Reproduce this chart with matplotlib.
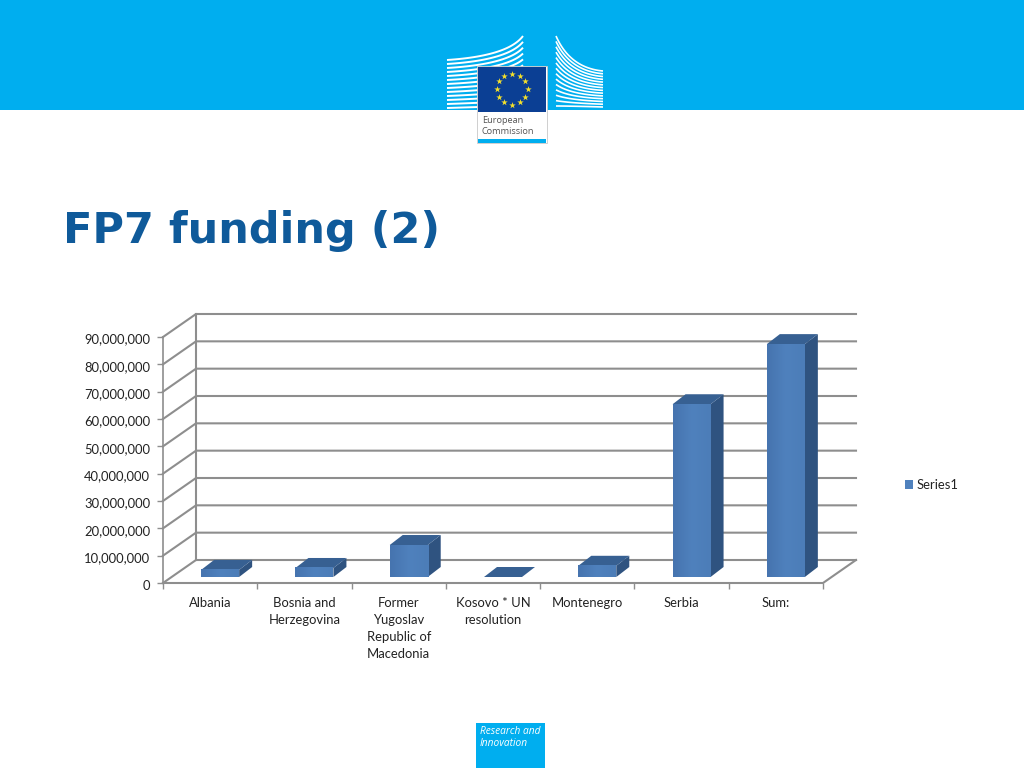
import numpy as np
import matplotlib
matplotlib.use("Agg")
import matplotlib.pyplot as plt
from matplotlib.colors import LinearSegmentedColormap
from matplotlib.patches import Polygon, Rectangle, Patch
from matplotlib.ticker import FuncFormatter
from matplotlib.transforms import ScaledTranslation

# chart values
categories = ["Albania", "Bosnia and\nHerzegovina", "Former\nYugoslav\nRepublic of\nMacedonia",
              "Kosovo * UN\nresolution", "Montenegro", "Serbia", "Sum:"]
funding = [2600000, 3300000, 11700000, 0, 4100000, 63200000, 85200000]
y_ticks = list(range(0, 100000000, 10000000))
series_name = "Series1"

W, H = 1024, 768
CYAN = "#00AEEF"
GRID = "#8E8E8E"
TEXT = "#222222"
FONT = "Lato"

fig = plt.figure(figsize=(W / 100, H / 100), dpi=100, facecolor="white")


def axes_from_pixels(x0, y0, x1, y1, **kw):
    # y0 is the top edge, counted from the top of the image
    return fig.add_axes([x0 / W, 1 - y1 / H, (x1 - x0) / W, (y1 - y0) / H], **kw)


# page furniture, in pixel coordinates
page = axes_from_pixels(0, 0, W, H)
page.set_xlim(0, W)
page.set_ylim(H, 0)
page.axis("off")
page.add_patch(Rectangle((0, 0), W, 110, color=CYAN, lw=0))
page.add_patch(Rectangle((476, 723), 69, 45, color=CYAN, lw=0))
page.text(480, 731.5, "Research and", color="white", style="italic", fontsize=7.3, family="Open Sans", va="center")
page.text(480, 743.5, "Innovation", color="white", style="italic", fontsize=7.3, family="Open Sans", va="center")
page.text(63, 231, "FP7 funding (2)", color="#0F5A9A", fontsize=31, fontweight="bold", family="DejaVu Sans", va="center")


def bezier(p0, p1, p2, n=30):
    t = np.linspace(0, 1, n)[:, None]
    return (1 - t) ** 2 * np.array(p0) + 2 * t * (1 - t) * np.array(p1) + t ** 2 * np.array(p2)


# building, left wing
for f in np.linspace(0, 1, 13):
    c = bezier((447, 60 + f * 48), (508, 56 + f * 50), (523, 36 + f * 70))
    page.plot(c[:, 0], c[:, 1], color="white", lw=1.4, solid_capstyle="butt", zorder=2)
# building, right wing
for f in np.linspace(0, 1, 14):
    c = bezier((556, 36 + f * 70), (570, 68 + f * 38), (603, 71 + f * 36))
    page.plot(c[:, 0], c[:, 1], color="white", lw=1.2, solid_capstyle="butt", zorder=2)

# logo panel
page.add_patch(Rectangle((477, 66), 70, 77, facecolor="white", edgecolor="#C8C8C8", lw=0.6, zorder=3))
page.add_patch(Rectangle((478, 67), 68, 45, color="#0B3F94", lw=0, zorder=4))
page.add_patch(Rectangle((478, 139), 68, 4, color=CYAN, lw=0, zorder=4))
angles = np.deg2rad(np.arange(0, 360, 30))
page.scatter(512 + 15.5 * np.cos(angles), 89 + 15.5 * np.sin(angles), marker="*", s=24, color="#F5E12B", lw=0, zorder=5)
page.text(482, 120.5, "European", color="#555555", fontsize=6.6, family="Open Sans", va="center", zorder=5)
page.text(482, 131, "Commission", color="#555555", fontsize=6.6, family="Open Sans", va="center", zorder=5)

# chart: front plane of the 3D box is the axes rectangle
X0, X1, Y0, Y1 = 163, 823, 337, 583
ax = axes_from_pixels(X0, Y0, X1, Y1)
ax.patch.set_alpha(0)
n = len(categories)
for s in ax.spines.values():
    s.set_visible(False)

# depth of the box expressed in data units
px_x = n / (X1 - X0)
px_y = 90000000 / (Y1 - Y0)
depth_x, depth_y = 33 * px_x, 23 * px_y

# walls and gridlines
for v in y_ticks:
    ax.plot([0, depth_x, n + depth_x], [v, v + depth_y, v + depth_y], color=GRID, lw=1.5,
            clip_on=False, zorder=1, solid_joinstyle="miter")
ax.plot([0, 0], [0, y_ticks[-1]], color=GRID, lw=1.2, clip_on=False, zorder=1)
ax.plot([depth_x, depth_x], [depth_y, y_ticks[-1] + depth_y], color=GRID, lw=1.5, clip_on=False, zorder=1)
ax.plot([0, n, n + depth_x], [0, 0, depth_y], color=GRID, lw=1.5, clip_on=False, zorder=1)

# 3D columns
bar_w = 38 * px_x
shift_x, shift_y = 10 * px_x, 6 * px_y
bar_dx, bar_dy = 13 * px_x, 10 * px_y
FRONT, TOP, SIDE = "#4F81BD", "#376092", "#2F5380"
front_cmap = LinearSegmentedColormap.from_list("front", ["#4674AF", "#4F81BD", "#4C7DB8"])

for i, v in enumerate(funding):
    left = i + 0.5 - bar_w / 2 + shift_x
    right = left + bar_w
    base = shift_y
    top = base + v
    if v > 0:
        ax.add_patch(Polygon([(right, base), (right + bar_dx, base + bar_dy), (right + bar_dx, top + bar_dy), (right, top)],
                             facecolor=SIDE, lw=0, zorder=3, clip_on=False))
        ax.imshow(np.linspace(0, 1, 32)[None, :], extent=(left, right, base, top), aspect="auto",
                  cmap=front_cmap, zorder=4, clip_on=False)
    ax.add_patch(Polygon([(left, top), (right, top), (right + bar_dx, top + bar_dy), (left + bar_dx, top + bar_dy)],
                         facecolor=TOP, lw=0, zorder=3, clip_on=False))

ax.set_xlim(0, n)
ax.set_ylim(0, 90000000)

ax.set_yticks(y_ticks)
ax.yaxis.set_major_formatter(FuncFormatter(lambda v, _: f"{int(v):,}"))
ax.set_xticks(range(n + 1))
ax.set_xticklabels([])
ax.set_xticks(np.arange(n) + 0.5, minor=True)
ax.set_xticklabels(categories, minor=True, fontsize=9.4, family=FONT, color=TEXT, linespacing=1.5, va="top")
ax.tick_params(axis="x", which="major", length=4.5, width=1, color=GRID)
ax.tick_params(axis="x", which="minor", length=0, pad=10)
ax.tick_params(axis="y", length=4.5, width=1, color=GRID, pad=4.8, labelsize=9.4, labelcolor=TEXT)
nudge = ScaledTranslation(0, -1.5 / 100, fig.dpi_scale_trans)
for lab in ax.get_yticklabels():
    lab.set_family(FONT)
    lab.set_transform(lab.get_transform() + nudge)

leg = ax.legend(handles=[Patch(facecolor=FRONT, label=series_name)], loc="center left",
                bbox_to_anchor=(898 / W, 1 - 485 / H), bbox_transform=fig.transFigure, frameon=False,
                handlelength=0.62, handleheight=0.62, handletextpad=0.28, borderpad=0, borderaxespad=0.5,
                prop={"family": FONT, "size": 9.4})
for t in leg.get_texts():
    t.set_color(TEXT)

fig.savefig("out.png", dpi=100)
